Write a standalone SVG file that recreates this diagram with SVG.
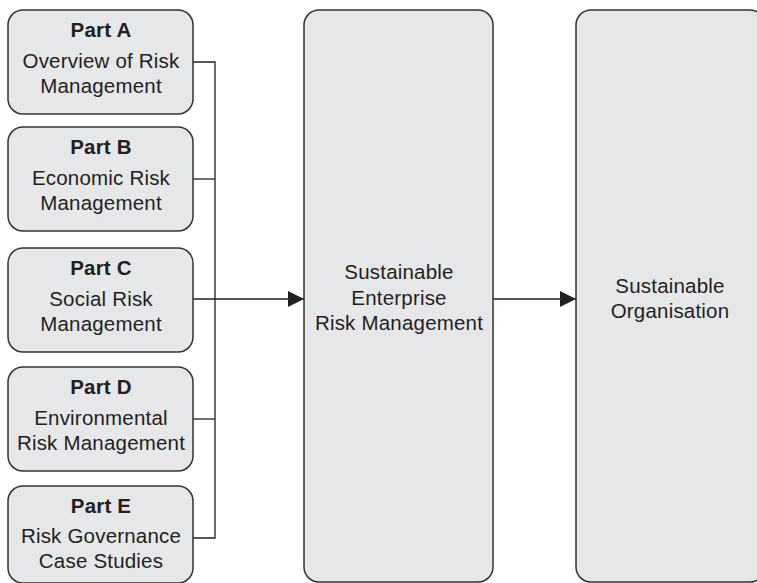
<svg xmlns="http://www.w3.org/2000/svg" width="757" height="583" viewBox="0 0 757 583">
<defs>
<style>
.box{fill:#e6e7e8;stroke:#333;stroke-width:1.5}
.t{font-family:"Liberation Sans",Arial,sans-serif;font-size:20.5px;fill:#231f20;text-anchor:middle;letter-spacing:0.2px}
.b{font-weight:bold}
.ln{fill:none;stroke:#231f20;stroke-width:1.3}
</style>
<marker id="ah" markerWidth="16" markerHeight="16" refX="16" refY="8" orient="auto" markerUnits="userSpaceOnUse">
<path d="M0,0 L16,8 L0,16 Z" fill="#231f20"/>
</marker>
</defs>
<rect width="757" height="583" fill="#fff"/>
<g id="connectors">
<path class="ln" d="M193,62 H215 V538 H193"/>
<path class="ln" d="M193,179 H215"/>
<path class="ln" d="M193,419 H215"/>
<path class="ln" d="M193,299 H304" marker-end="url(#ah)"/>
<path class="ln" d="M493,299 H576" marker-end="url(#ah)"/>
</g>
<g id="partA">
<rect class="box" x="8" y="10" width="185" height="104" rx="15"/>
<text class="t b" x="101" y="37">Part A</text>
<text class="t" x="101" y="68">Overview of Risk</text>
<text class="t" x="101" y="93">Management</text>
</g>
<g id="partB">
<rect class="box" x="8" y="127" width="185" height="104" rx="15"/>
<text class="t b" x="101" y="154">Part B</text>
<text class="t" x="101" y="185">Economic Risk</text>
<text class="t" x="101" y="210">Management</text>
</g>
<g id="partC">
<rect class="box" x="8" y="248" width="185" height="104" rx="15"/>
<text class="t b" x="101" y="275">Part C</text>
<text class="t" x="101" y="306">Social Risk</text>
<text class="t" x="101" y="331">Management</text>
</g>
<g id="partD">
<rect class="box" x="8" y="367" width="185" height="104" rx="15"/>
<text class="t b" x="101" y="394">Part D</text>
<text class="t" x="101" y="425">Environmental</text>
<text class="t" x="101" y="450">Risk Management</text>
</g>
<g id="partE">
<rect class="box" x="8" y="486" width="185" height="97" rx="15"/>
<text class="t b" x="101" y="513">Part E</text>
<text class="t" x="101" y="543">Risk Governance</text>
<text class="t" x="101" y="568">Case Studies</text>
</g>
<g id="serm">
<rect class="box" x="304" y="10" width="189" height="572" rx="15"/>
<text class="t" x="399" y="279">Sustainable</text>
<text class="t" x="399" y="305">Enterprise</text>
<text class="t" x="399" y="330">Risk Management</text>
</g>
<g id="org">
<rect class="box" x="576" y="10" width="189" height="572" rx="15"/>
<text class="t" x="670" y="293">Sustainable</text>
<text class="t" x="670" y="318">Organisation</text>
</g>
</svg>
